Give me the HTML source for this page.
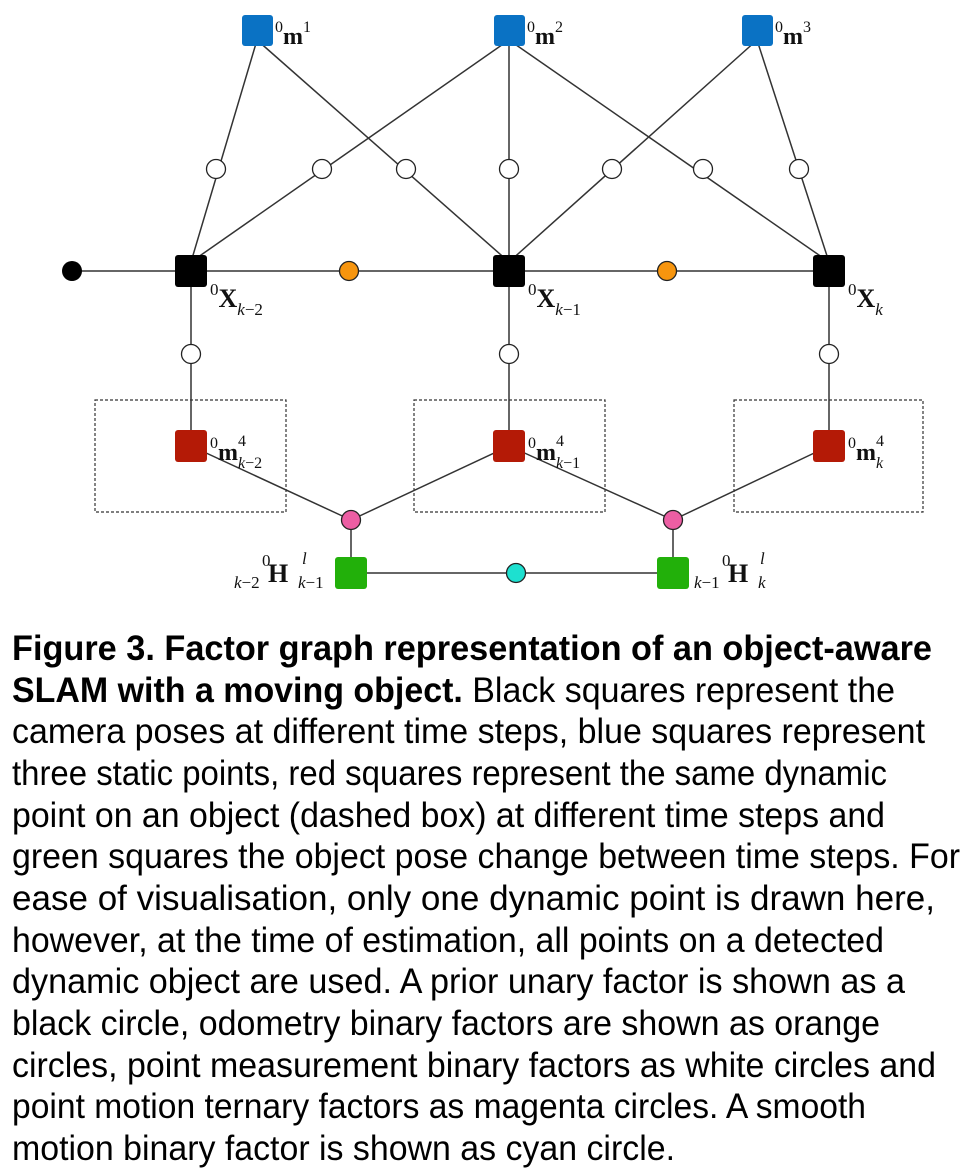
<!DOCTYPE html>
<html><head><meta charset="utf-8"><style>
html,body{margin:0;padding:0;background:#fff;}
svg{display:block;}
.lbl{font-family:"Liberation Serif",serif;font-size:24px;}
.cap{font-family:"Liberation Sans",sans-serif;font-size:35px;fill:#000;}
</style></head><body>
<svg width="965" height="1169" viewBox="0 0 965 1169" xmlns="http://www.w3.org/2000/svg">
<g stroke="#333" stroke-width="1.5" fill="none">
<line x1="257" y1="40" x2="191" y2="262"/>
<line x1="257" y1="40" x2="509" y2="262"/>
<line x1="509" y1="40" x2="191" y2="262"/>
<line x1="509" y1="40" x2="509" y2="262"/>
<line x1="509" y1="40" x2="829" y2="262"/>
<line x1="757" y1="40" x2="509" y2="262"/>
<line x1="757" y1="40" x2="829" y2="262"/>
<line x1="72" y1="271" x2="829" y2="271"/>
<line x1="191" y1="271" x2="191" y2="446"/>
<line x1="509" y1="271" x2="509" y2="446"/>
<line x1="829" y1="271" x2="829" y2="446"/>
<line x1="191" y1="446" x2="351" y2="520"/>
<line x1="509" y1="446" x2="351" y2="520"/>
<line x1="509" y1="446" x2="673" y2="520"/>
<line x1="829" y1="446" x2="673" y2="520"/>
<line x1="351" y1="520" x2="351" y2="573"/>
<line x1="673" y1="520" x2="673" y2="573"/>
<line x1="351" y1="573" x2="673" y2="573"/>
</g>
<g stroke="#333" stroke-width="1.2" fill="none" stroke-dasharray="3,2">
<rect x="95" y="400" width="191" height="112"/>
<rect x="414" y="400" width="191" height="112"/>
<rect x="734" y="400" width="189" height="112"/>
</g>
<g fill="#fff" stroke="#222" stroke-width="1.3">
<circle cx="216" cy="169" r="9.5"/>
<circle cx="322" cy="169" r="9.5"/>
<circle cx="406" cy="169" r="9.5"/>
<circle cx="509" cy="169" r="9.5"/>
<circle cx="612" cy="169" r="9.5"/>
<circle cx="703" cy="169" r="9.5"/>
<circle cx="799" cy="169" r="9.5"/>
<circle cx="191" cy="354" r="9.5"/>
<circle cx="509" cy="354" r="9.5"/>
<circle cx="829" cy="354" r="9.5"/>
</g>
<circle cx="72" cy="271" r="10" fill="#000"/>
<g stroke="#222" stroke-width="1.3">
<circle cx="349" cy="271" r="9.5" fill="#f7950e"/>
<circle cx="667" cy="271" r="9.5" fill="#f7950e"/>
<circle cx="351" cy="520" r="9.5" fill="#ec5ea3"/>
<circle cx="673" cy="520" r="9.5" fill="#ec5ea3"/>
<circle cx="516" cy="573" r="9.5" fill="#1de0d0"/>
</g>
<g>
<rect x="242" y="15" width="31" height="31" rx="3" fill="#0a72c4"/>
<rect x="494" y="15" width="31" height="31" rx="3" fill="#0a72c4"/>
<rect x="742" y="15" width="31" height="31" rx="3" fill="#0a72c4"/>
<rect x="175" y="255" width="32" height="32" rx="3" fill="#000"/>
<rect x="493" y="255" width="32" height="32" rx="3" fill="#000"/>
<rect x="813" y="255" width="32" height="32" rx="3" fill="#000"/>
<rect x="175" y="430" width="32" height="32" rx="3" fill="#b41a06"/>
<rect x="493" y="430" width="32" height="32" rx="3" fill="#b41a06"/>
<rect x="813" y="430" width="32" height="32" rx="3" fill="#b41a06"/>
<rect x="335" y="557" width="32" height="32" rx="3" fill="#22b00a"/>
<rect x="657" y="557" width="32" height="32" rx="3" fill="#22b00a"/>
</g>
<g class="lbl" fill="#111">
<text x="275" y="44"><tspan font-size="16" dy="-12">0</tspan><tspan font-weight="bold" dy="12">m</tspan><tspan font-size="16" dy="-12">1</tspan></text>
<text x="527" y="44"><tspan font-size="16" dy="-12">0</tspan><tspan font-weight="bold" dy="12">m</tspan><tspan font-size="16" dy="-12">2</tspan></text>
<text x="775" y="44"><tspan font-size="16" dy="-12">0</tspan><tspan font-weight="bold" dy="12">m</tspan><tspan font-size="16" dy="-12">3</tspan></text>

<text x="210" y="307" font-size="26"><tspan font-size="17" dy="-12">0</tspan><tspan font-weight="bold" dy="12">X</tspan><tspan font-size="17" font-style="italic" dy="8">k</tspan><tspan font-size="17" dy="0">−2</tspan></text>
<text x="528" y="307" font-size="26"><tspan font-size="17" dy="-12">0</tspan><tspan font-weight="bold" dy="12">X</tspan><tspan font-size="17" font-style="italic" dy="8">k</tspan><tspan font-size="17">−1</tspan></text>
<text x="848" y="307" font-size="26"><tspan font-size="17" dy="-12">0</tspan><tspan font-weight="bold" dy="12">X</tspan><tspan font-size="17" font-style="italic" dy="8">k</tspan></text>

<text x="210" y="460"><tspan font-size="16" dy="-12">0</tspan><tspan font-weight="bold" dy="12">m</tspan><tspan font-size="16" dy="-14">4</tspan><tspan font-size="16" dx="-8" dy="22" font-style="italic">k</tspan><tspan font-size="16">−2</tspan></text>
<text x="528" y="460"><tspan font-size="16" dy="-12">0</tspan><tspan font-weight="bold" dy="12">m</tspan><tspan font-size="16" dy="-14">4</tspan><tspan font-size="16" dx="-8" dy="22" font-style="italic">k</tspan><tspan font-size="16">−1</tspan></text>
<text x="848" y="460"><tspan font-size="16" dy="-12">0</tspan><tspan font-weight="bold" dy="12">m</tspan><tspan font-size="16" dy="-14">4</tspan><tspan font-size="16" dx="-8" dy="22" font-style="italic">k</tspan></text>

<text x="234" y="588" font-size="17"><tspan font-style="italic">k</tspan>−2</text>
<text x="262" y="566" font-size="17">0</text>
<text x="268" y="582" font-size="26" font-weight="bold">H</text>
<text x="302" y="564" font-size="17" font-style="italic">l</text>
<text x="298" y="588" font-size="17"><tspan font-style="italic">k</tspan>−1</text>

<text x="694" y="588" font-size="17"><tspan font-style="italic">k</tspan>−1</text>
<text x="722" y="566" font-size="17">0</text>
<text x="728" y="582" font-size="26" font-weight="bold">H</text>
<text x="760" y="564" font-size="17" font-style="italic">l</text>
<text x="758" y="588" font-size="17" font-style="italic">k</text>
</g>
<g class="cap">
<text x="12" y="660" textLength="920" lengthAdjust="spacingAndGlyphs" font-weight="bold">Figure 3.  Factor graph representation of an object-aware</text>
<text x="12" y="702" textLength="883" lengthAdjust="spacingAndGlyphs"><tspan font-weight="bold">SLAM with a moving object.</tspan> Black squares represent the</text>
<text x="12" y="743" textLength="913" lengthAdjust="spacingAndGlyphs">camera poses at different time steps, blue squares represent</text>
<text x="12" y="785" textLength="875" lengthAdjust="spacingAndGlyphs">three static points, red squares represent the same dynamic</text>
<text x="12" y="827" textLength="873" lengthAdjust="spacingAndGlyphs">point on an object (dashed box) at different time steps and</text>
<text x="12" y="868" textLength="948" lengthAdjust="spacingAndGlyphs">green squares the object pose change between time steps. For</text>
<text x="12" y="910" textLength="923" lengthAdjust="spacingAndGlyphs">ease of visualisation, only one dynamic point is drawn here,</text>
<text x="12" y="952" textLength="872" lengthAdjust="spacingAndGlyphs">however, at the time of estimation, all points on a detected</text>
<text x="12" y="993" textLength="893" lengthAdjust="spacingAndGlyphs">dynamic object are used. A prior unary factor is shown as a</text>
<text x="12" y="1035" textLength="868" lengthAdjust="spacingAndGlyphs">black circle, odometry binary factors are shown as orange</text>
<text x="12" y="1077" textLength="924" lengthAdjust="spacingAndGlyphs">circles, point measurement binary factors as white circles and</text>
<text x="12" y="1118" textLength="854" lengthAdjust="spacingAndGlyphs">point motion ternary factors as magenta circles. A smooth</text>
<text x="12" y="1160" textLength="663" lengthAdjust="spacingAndGlyphs">motion binary factor is shown as cyan circle.</text>
</g>
</svg>
</body></html>
